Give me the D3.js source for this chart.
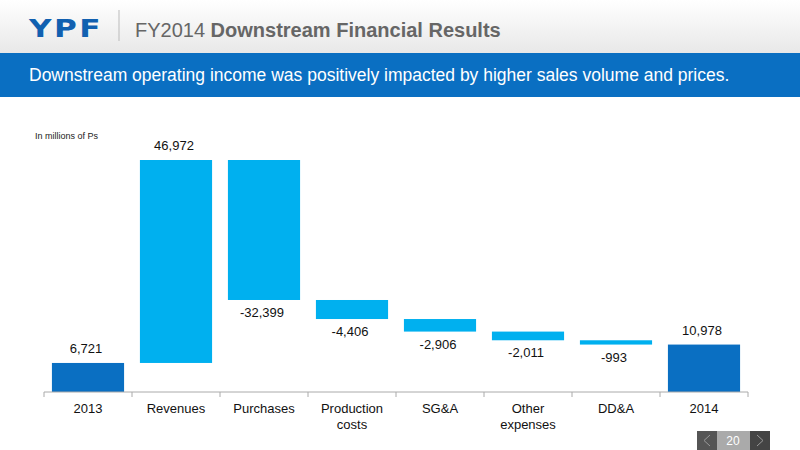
<!DOCTYPE html>
<html><head><meta charset="utf-8">
<script src="https://cdn.jsdelivr.net/npm/d3@7"></script>
<style>body{margin:0;background:#fff;font-family:"Liberation Sans",Arial,sans-serif}</style>
</head><body><svg id="c" width="800" height="450"></svg>
<script>
// waterfall data, millions of Ps
var categories = ["2013", "Revenues", "Purchases", "Production costs", "SG&A", "Other expenses", "DD&A", "2014"];
var values = [6721, 46972, -32399, -4406, -2906, -2011, -993, 10978];
var isTotal = [true, false, false, false, false, false, false, true];
var labels = ["6,721", "46,972", "-32,399", "-4,406", "-2,906", "-2,011", "-993", "10,978"];

var svg = d3.select("#c");

// header
var grad = svg.append("defs").append("linearGradient").attr("id", "hg").attr("x2", 0).attr("y2", 1);
grad.append("stop").attr("offset", 0).attr("stop-color", "#fff");
grad.append("stop").attr("offset", 1).attr("stop-color", "#e8e8e8");
svg.append("rect").attr("width", 800).attr("height", 53).attr("fill", "url(#hg)");
svg.append("text").attr("x", 29).attr("y", 37).attr("font-size", 25).attr("font-weight", "bold")
    .attr("fill", "#1160b0").attr("font-family", "DejaVu Sans").attr("letter-spacing", 2)
    .attr("textLength", 74).attr("lengthAdjust", "spacingAndGlyphs").text("YPF");
svg.append("line").attr("x1", 119).attr("x2", 119).attr("y1", 10).attr("y2", 41).attr("stroke", "#bbb");
var t = svg.append("text").attr("x", 135).attr("y", 37).attr("font-size", 20).attr("fill", "#666");
t.append("tspan").text("FY2014 ");
t.append("tspan").attr("font-weight", "bold").text("Downstream Financial Results");
svg.append("rect").attr("y", 53).attr("width", 800).attr("height", 44).attr("fill", "#0a6fc2");
svg.append("text").attr("x", 29).attr("y", 81).attr("font-size", 17.5).attr("fill", "#fff")
    .text("Downstream operating income was positively impacted by higher sales volume and prices.");
svg.append("text").attr("x", 35).attr("y", 139).attr("font-size", 9).attr("fill", "#222").text("In millions of Ps");

// compute waterfall
var run = 0, bars = [];
values.forEach(function (v, i) {
    if (isTotal[i]) { bars.push({y0: 0, y1: v}); run = v; }
    else { bars.push({y0: run, y1: run + v}); run += v; }
});

var x = d3.scaleBand().domain(categories).range([44, 748]).paddingInner(0.18).paddingOuter(0.09);
var y = d3.scaleLinear().domain([0, d3.max(bars, function (d) { return Math.max(d.y0, d.y1); })]).range([392, 160]);

svg.selectAll("rect.bar").data(bars).enter().append("rect")
    .attr("x", function (d, i) { return x(categories[i]); })
    .attr("width", x.bandwidth())
    .attr("y", function (d) { return y(Math.max(d.y0, d.y1)); })
    .attr("height", function (d) { return Math.abs(y(d.y0) - y(d.y1)); })
    .attr("fill", function (d, i) { return isTotal[i] ? "#0a6fc2" : "#00b0ef"; });

svg.selectAll("text.val").data(bars).enter().append("text")
    .attr("x", function (d, i) { return x(categories[i]) + x.bandwidth() / 2 - 2; })
    .attr("y", function (d, i) { return values[i] >= 0 ? y(Math.max(d.y0, d.y1)) - 10 : y(d.y1) + 17; })
    .attr("text-anchor", "middle").attr("font-size", 13).attr("fill", "#111")
    .text(function (d, i) { return labels[i]; });

// axis
svg.append("line").attr("x1", 44).attr("x2", 748).attr("y1", 392).attr("y2", 392).attr("stroke", "#aaa");
d3.range(categories.length + 1).forEach(function (i) {
    var xx = 44 + i * x.step();
    svg.append("line").attr("x1", xx).attr("x2", xx).attr("y1", 392).attr("y2", 397).attr("stroke", "#aaa");
});
categories.forEach(function (c) {
    var words = c.split(" ");
    var tx = svg.append("text").attr("x", x(c) + x.bandwidth() / 2).attr("y", 413)
        .attr("text-anchor", "middle").attr("font-size", 13).attr("fill", "#111");
    words.forEach(function (w, k) {
        tx.append("tspan").attr("x", x(c) + x.bandwidth() / 2).attr("dy", k ? 16 : 0).text(w);
    });
});

// page nav
svg.append("rect").attr("x", 697).attr("y", 431).attr("width", 20).attr("height", 19).attr("fill", "#555");
svg.append("rect").attr("x", 717).attr("y", 431).attr("width", 33).attr("height", 19).attr("fill", "#aaa");
svg.append("rect").attr("x", 750).attr("y", 431).attr("width", 20).attr("height", 19).attr("fill", "#444");
svg.append("text").attr("x", 733).attr("y", 445).attr("text-anchor", "middle").attr("font-size", 12).attr("fill", "#fff").text("20");
svg.append("path").attr("d", "M710,435 L704,440.5 L710,446").attr("stroke", "#999").attr("fill", "none");
svg.append("path").attr("d", "M757,435 L763,440.5 L757,446").attr("stroke", "#999").attr("fill", "none");
</script></body></html>
